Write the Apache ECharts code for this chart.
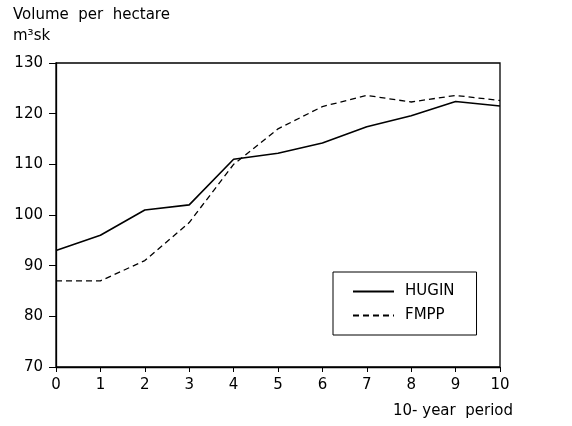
<!DOCTYPE html>
<html>
<head>
<meta charset="utf-8">
<script src="https://cdn.jsdelivr.net/npm/echarts@6/dist/echarts.min.js"></script>
<style>
  html, body { margin: 0; padding: 0; background: #fff; }
  #chart { width: 572px; height: 426px; }
</style>
</head>
<body>
<div id="chart"></div>
<script>
// periods (10-year)
var periods = [0, 1, 2, 3, 4, 5, 6, 7, 8, 9, 10];
// volume per hectare, m3sk
var hugin = [93, 96, 101, 102, 111, 112.2, 114.2, 117.4, 119.6, 122.4, 121.5];
var fmpp = [87, 87, 91, 98.5, 110, 117, 121.4, 123.6, 122.3, 123.6, 122.6];
var yTicks = [70, 80, 90, 100, 110, 120, 130];

function pairs(vals) {
  var out = [];
  for (var i = 0; i < periods.length; i++) {
    out.push([periods[i], vals[i]]);
  }
  return out;
}

var font = 'DejaVu Sans';
var myChart = echarts.init(document.getElementById('chart'));
var option = {
  animation: false,
  backgroundColor: '#fff',
  grid: {
    left: 56, right: 72, top: 63, bottom: 59,
    show: true, borderColor: '#000', borderWidth: 1.3
  },
  xAxis: {
    type: 'value',
    min: 0, max: 10, interval: 1,
    axisLine: { lineStyle: { color: '#000', width: 1.3 } },
    axisTick: { length: 5, lineStyle: { color: '#000' } },
    splitLine: { show: false },
    axisLabel: { color: '#000', fontFamily: font, fontSize: 15, margin: 11 }
  },
  yAxis: {
    type: 'value',
    min: yTicks[0], max: yTicks[yTicks.length - 1], interval: 10,
    axisLine: { show: true, lineStyle: { color: '#000', width: 1.3 } },
    axisTick: { show: true, length: 7, lineStyle: { color: '#000' } },
    splitLine: { show: false },
    axisLabel: { color: '#000', fontFamily: font, fontSize: 15, margin: 13 }
  },
  legend: {
    orient: 'vertical',
    left: 333, top: 272,
    padding: [12, 22, 12, 19],
    itemGap: 9,
    itemWidth: 41, itemHeight: 14,
    borderColor: '#000', borderWidth: 1,
    backgroundColor: '#fff',
    itemStyle: { color: 'transparent', borderWidth: 0, opacity: 0 },
    textStyle: { color: '#000', fontFamily: font, fontSize: 15, padding: [0, 0, 0, 6] },
    data: ['HUGIN', 'FMPP']
  },
  graphic: [
    { type: 'text', left: 13, top: 8, style: { text: 'Volume  per  hectare', font: '15px "DejaVu Sans"', fill: '#000' } },
    { type: 'text', left: 13, top: 29, style: { text: 'm³sk', font: '15px "DejaVu Sans"', fill: '#000' } },
    { type: 'text', left: 393, top: 404, style: { text: '10- year  period', font: '15px "DejaVu Sans"', fill: '#000' } }
  ],
  series: [
    {
      name: 'HUGIN', type: 'line', data: pairs(hugin),
      showSymbol: false, symbol: 'none',
      lineStyle: { color: '#000', width: 1.6 },
      itemStyle: { color: '#000' }
    },
    {
      name: 'FMPP', type: 'line', data: pairs(fmpp),
      showSymbol: false, symbol: 'none',
      lineStyle: { color: '#000', width: 1.3, type: [6, 4] },
      itemStyle: { color: '#000' }
    }
  ]
};
myChart.setOption(option, true);
window.addEventListener('resize', function () {
  myChart.resize();
});
</script>
</body>
</html>
